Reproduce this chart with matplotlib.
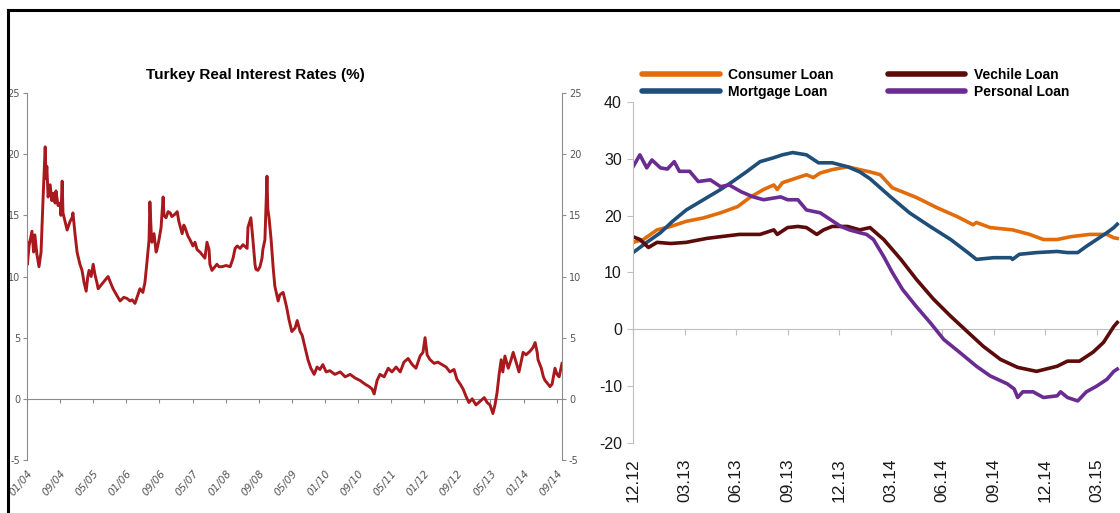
import matplotlib
matplotlib.use("Agg")
import matplotlib.pyplot as plt
from matplotlib.lines import Line2D
from matplotlib import font_manager

plt.rcParams['axes.unicode_minus'] = False

# ---- left panel: Turkey real interest rate (%), x = months since Jan 2004
rate_months = [0, 0.1, 0.5, 1.2, 1.6, 1.9, 2.4, 2.9, 3.4, 3.9, 4.4, 4.6, 4.8, 5.1, 5.6, 6.0, 6.3, 6.8,
               7.0, 7.5, 8.0, 8.2, 8.5, 8.7, 9.2, 9.7, 10.4, 10.9, 11.1, 11.6, 12.1, 12.3, 12.8, 13.3,
               13.8, 14.3, 14.7, 15.0, 15.5, 16.0, 16.4, 16.9, 17.2, 17.9, 18.4, 19.1, 19.6, 20.3, 20.8,
               21.8, 22.5, 23.4, 24.2, 24.9, 25.4, 26.1, 26.8, 27.3, 28.0, 28.5, 29.0, 29.5, 29.7, 30.1,
               30.2, 30.7, 31.2, 31.4, 31.9, 32.4, 32.9, 33.1, 33.6, 34.1, 34.6, 35.0, 35.8, 36.3, 36.7,
               37.5, 37.9, 38.2, 38.9, 39.4, 40.1, 40.6, 41.1, 41.8, 42.5, 43.0, 43.5, 44.0, 44.2, 44.7,
               45.4, 45.9, 46.4, 47.1, 48.1, 49.1, 49.8, 50.3, 50.8, 51.5, 52.2, 53.2, 53.4, 54.1, 54.6,
               55.1, 55.3, 55.8, 56.3, 56.8, 57.0, 57.5, 58.0, 58.2, 58.5, 59.0, 59.5, 59.9, 60.7, 61.1,
               61.9, 62.4, 62.8, 63.3, 64.0, 64.8, 65.3, 66.0, 66.5, 67.2, 67.9, 68.6, 69.4, 70.1, 70.8,
               71.5, 72.3, 73.2, 74.4, 75.7, 76.9, 78.1, 79.3, 80.5, 81.7, 82.7, 83.4, 83.9, 84.6, 85.3,
               86.3, 87.3, 88.2, 89.2, 90.2, 91.1, 92.1, 93.1, 94.0, 95.0, 95.7, 96.2, 96.7, 97.4, 98.4,
               99.3, 100.3, 101.3, 102.2, 103.2, 103.9, 104.7, 105.4, 106.1, 106.8, 107.6, 108.5, 109.5,
               110.5, 111.2, 111.9, 112.6, 113.1, 113.6, 114.1, 114.6, 115.0, 115.5, 116.3, 117.0, 117.5,
               118.2, 118.9, 119.4, 119.9, 120.6, 121.6, 122.3, 122.8, 123.3, 123.5, 124.3, 124.8, 125.2,
               125.7, 126.4, 126.9, 127.6, 128.1, 128.6, 129.3]
rate_values = [12.8, 11.0, 12.5, 13.7, 12.0, 13.4, 11.8, 10.8, 12.0, 16.5, 20.6, 18.0, 19.0, 16.5, 17.5,
               16.2, 16.8, 16.0, 17.0, 15.8, 16.0, 15.0, 17.8, 15.2, 14.5, 13.8, 14.5, 14.8, 15.2, 13.5,
               12.0, 11.7, 11.0, 10.5, 9.5, 8.8, 10.0, 10.5, 10.0, 11.0, 10.2, 9.5, 9.0, 9.3, 9.5, 9.8,
               10.0, 9.4, 9.0, 8.4, 8.0, 8.3, 8.2, 8.0, 8.1, 7.8, 8.5, 9.0, 8.7, 9.5, 11.2, 13.0, 16.1,
               13.0, 12.8, 13.5, 12.0, 12.2, 13.0, 14.0, 16.5, 15.0, 14.8, 15.3, 15.2, 14.9, 15.1, 15.3,
               14.5, 13.5, 14.2, 14.0, 13.3, 13.0, 12.5, 12.8, 12.2, 12.0, 11.7, 11.5, 12.8, 12.2, 11.0,
               10.5, 10.8, 11.0, 10.8, 10.8, 10.9, 10.8, 11.5, 12.3, 12.5, 12.3, 12.6, 12.3, 14.0, 14.8,
               13.0, 11.0, 10.6, 10.5, 10.8, 11.5, 12.2, 13.0, 18.2, 15.5, 14.8, 13.0, 10.7, 9.2, 8.0,
               8.5, 8.7, 8.0, 7.4, 6.5, 5.5, 5.8, 6.4, 5.5, 5.2, 4.2, 3.2, 2.5, 2.0, 2.6, 2.4, 2.8, 2.2,
               2.3, 2.0, 2.2, 1.8, 2.0, 1.7, 1.5, 1.2, 1.0, 0.8, 0.4, 1.5, 2.0, 1.8, 2.5, 2.2, 2.6, 2.2,
               3.0, 3.3, 2.8, 2.5, 3.5, 3.8, 5.0, 3.6, 3.2, 2.9, 3.0, 2.8, 2.6, 2.2, 2.4, 1.6, 1.2, 0.8,
               0.2, -0.3, 0.0, -0.5, -0.2, 0.1, -0.3, -0.5, -1.2, -0.5, 0.5, 2.0, 3.2, 2.2, 3.5, 2.5, 3.2,
               3.8, 3.0, 2.2, 3.0, 3.8, 3.6, 3.9, 4.2, 4.6, 3.8, 3.2, 2.5, 1.8, 1.5, 1.3, 1.0, 1.2, 2.5,
               2.0, 1.8, 2.9]
rate_tick_labels = ['01/04', '09/04', '05/05', '01/06', '09/06', '05/07', '01/08', '09/08', '05/09',
                    '01/10', '09/10', '05/11', '01/12', '09/12', '05/13', '01/14', '09/14']

# ---- right panel: loan growth (%), x = months since Dec 2012
consumer_months = [0, 0.6, 1.4, 2.2, 3.1, 4.1, 5.1, 6.1, 6.8, 7.6, 8.2, 8.4, 8.7, 9.6, 10.1, 10.5, 10.9,
                   11.6, 12.5, 13.2, 13.8, 14.4, 15.1, 16.5, 17.7, 18.9, 19.8, 20.0, 20.8, 22.1, 23.1,
                   23.9, 24.7, 25.5, 26.6, 27.6, 28.0, 28.2]
consumer_values = [15.3, 15.8, 17.5, 18.1, 19.0, 19.6, 20.5, 21.6, 23.2, 24.6, 25.4, 24.6, 25.8, 26.7,
                   27.2, 26.7, 27.5, 28.1, 28.6, 28.1, 27.7, 27.2, 24.9, 23.2, 21.4, 19.8, 18.4, 18.8,
                   17.9, 17.5, 16.7, 15.8, 15.8, 16.3, 16.7, 16.7, 16.1, 16.0]
mortgage_months = [0, 0.8, 1.6, 2.3, 3.1, 4.1, 5.1, 5.8, 6.6, 7.4, 8.2, 8.7, 9.3, 10.1, 10.8, 11.6, 12.5,
                   13.2, 13.8, 15.0, 16.1, 17.3, 18.5, 19.5, 20.0, 21.0, 22.0, 22.1, 22.5, 23.5, 24.7,
                   25.3, 25.9, 26.4, 27.0, 27.6, 28.0, 28.2]
mortgage_values = [13.5, 15.3, 17.0, 19.0, 21.0, 22.8, 24.6, 26.0, 27.7, 29.5, 30.2, 30.7, 31.1, 30.7,
                   29.3, 29.3, 28.6, 27.7, 26.5, 23.3, 20.5, 18.1, 15.8, 13.5, 12.3, 12.6, 12.6, 12.3,
                   13.2, 13.5, 13.7, 13.5, 13.5, 14.6, 15.8, 17.0, 17.9, 18.5]
vehicle_months = [0, 0.4, 0.9, 1.4, 2.2, 3.1, 4.3, 5.1, 6.2, 7.4, 8.2, 8.4, 9.0, 9.6, 10.1, 10.7, 11.1,
                  11.6, 12.5, 13.2, 13.8, 14.6, 15.6, 16.5, 17.5, 18.5, 19.5, 20.4, 21.4, 22.4, 23.5,
                  24.7, 25.3, 26.0, 26.8, 27.4, 28.0, 28.2]
vehicle_values = [16.3, 15.8, 14.4, 15.3, 15.1, 15.3, 16.0, 16.3, 16.7, 16.7, 17.5, 16.7, 17.9, 18.1,
                  17.9, 16.7, 17.5, 18.1, 18.1, 17.5, 17.9, 15.8, 12.3, 8.8, 5.3, 2.3, -0.5, -3.0, -5.3,
                  -6.7, -7.4, -6.5, -5.6, -5.6, -4.0, -2.3, 0.5, 1.2]
personal_months = [0, 0.4, 0.8, 1.1, 1.6, 2.0, 2.4, 2.7, 3.3, 3.8, 4.5, 5.1, 5.6, 6.3, 7.0, 7.6, 8.6,
                   9.0, 9.6, 10.1, 10.9, 11.5, 12.1, 12.6, 13.2, 13.6, 14.0, 14.6, 15.1, 15.7, 16.5,
                   17.3, 18.1, 19.0, 20.0, 20.8, 21.8, 22.2, 22.4, 22.7, 23.3, 23.9, 24.7, 24.9, 25.3,
                   25.9, 26.4, 27.0, 27.6, 28.0, 28.2]
personal_values = [28.6, 30.7, 28.4, 29.8, 28.4, 28.2, 29.5, 27.8, 27.8, 26.0, 26.3, 25.1, 25.4, 24.2,
                   23.3, 22.8, 23.3, 22.8, 22.8, 21.0, 20.5, 19.3, 18.1, 17.5, 17.0, 16.7, 15.8, 12.8,
                   10.0, 7.0, 4.0, 1.2, -1.8, -4.0, -6.5, -8.2, -9.6, -10.5, -12.0, -11.0, -11.0, -12.0,
                   -11.7, -11.0, -12.0, -12.6, -11.0, -10.0, -8.8, -7.4, -7.0]
loan_tick_labels = ['12.12', '03.13', '06.13', '09.13', '12.13', '03.14', '06.14', '09.14', '12.14', '03.15']

# a narrow face would suit the title/legend best, fall back to Arial metrics
installed = {f.name for f in font_manager.fontManager.ttflist}
has_narrow = 'Liberation Sans Narrow' in installed
narrow = ['Liberation Sans Narrow', 'DejaVu Sans'] if has_narrow else ['Liberation Sans', 'DejaVu Sans']
arial = ['Liberation Sans', 'DejaVu Sans']
title_size = 12.5 if has_narrow else 11
legend_size = 11.5 if has_narrow else 10

fig = plt.figure(figsize=(11.2, 5.13), dpi=100)

# ---------------- left chart
ax1 = fig.add_axes([0.0241, 0.1033, 0.4777, 0.7154])
ax1.plot(rate_months, rate_values, color='#A8181C', lw=2.1)
ax1.set_xlim(0, 129.3)
ax1.set_ylim(-5, 25)
ax1.set_yticks(range(-5, 26, 5))
for s in ['top', 'bottom']:
    ax1.spines[s].set_visible(False)
for s in ['left', 'right']:
    ax1.spines[s].set_color('#8C8C8C')
ax1.tick_params(axis='y', which='both', left=True, right=True, labelleft=True, labelright=True,
                direction='out', length=3, color='#8C8C8C', labelsize=7, labelcolor='#555555', pad=2)
xt = [8 * i for i in range(len(rate_tick_labels))]
ax1.set_xticks(xt)
ax1.set_xticklabels(rate_tick_labels, rotation=50, ha='right', va='top', rotation_mode='anchor',
                    fontsize=7.5, color='#555555', style='italic')
ax1.tick_params(axis='x', length=0, pad=6)
zero1 = ax1.secondary_xaxis(5 / 30)
zero1.set_xticks(xt)
zero1.set_xticklabels([])
zero1.tick_params(length=3, color='#8C8C8C')
zero1.spines['bottom'].set_color('#8C8C8C')
ax1.text(0.427, 1.03, 'Turkey Real Interest Rates (%)', transform=ax1.transAxes, ha='center',
         va='bottom', fontsize=title_size, fontweight='bold', family=narrow)

# ---------------- right chart
ax2 = fig.add_axes([0.5652, 0.1365, 0.4348, 0.6647])
ax2.plot(consumer_months, consumer_values, color='#E36C0A', lw=2.6, label='Consumer Loan')
ax2.plot(mortgage_months, mortgage_values, color='#1F4E79', lw=2.6, label='Mortgage Loan')
ax2.plot(vehicle_months, vehicle_values, color='#5C0A0A', lw=2.6, label='Vechile Loan')
ax2.plot(personal_months, personal_values, color='#6B2C91', lw=2.6, label='Personal Loan')
ax2.set_xlim(0, 28.36)
ax2.set_ylim(-20, 40)
ax2.set_yticks(range(-20, 41, 10))
for s in ['top', 'right', 'bottom']:
    ax2.spines[s].set_visible(False)
ax2.spines['left'].set_color('#BFBFBF')
ax2.tick_params(axis='y', direction='out', length=4, color='#BFBFBF', labelsize=11.5,
                labelcolor='#1A1A1A', pad=4)
for lab in ax2.get_yticklabels():
    lab.set_family(arial)
xt2 = [3 * i for i in range(len(loan_tick_labels))]
ax2.set_xticks(xt2)
ax2.set_xticklabels(loan_tick_labels, rotation=90, fontsize=12.5, color='#1A1A1A', family=arial)
ax2.tick_params(axis='x', length=0, pad=11)
zero2 = ax2.secondary_xaxis(20 / 60)
zero2.set_xticks(xt2)
zero2.set_xticklabels([])
zero2.tick_params(length=4, color='#BFBFBF')
zero2.spines['bottom'].set_color('#BFBFBF')

leg = ax2.legend(loc='lower left', bbox_to_anchor=(0.018, 1.01), ncol=2, frameon=False,
                 handlelength=5.6, handletextpad=0.6, columnspacing=3.9, labelspacing=0.2,
                 borderpad=0, borderaxespad=0,
                 prop={'family': narrow, 'size': legend_size, 'weight': 'bold'})
for h in leg.get_lines():
    h.set_linewidth(4)
    h.set_solid_capstyle('round')

# black frame lines of the composite picture
fig.add_artist(Line2D([8 / 1120, 1.0], [1 - 10 / 513, 1 - 10 / 513], color='black', lw=2.2))
fig.add_artist(Line2D([8 / 1120, 8 / 1120], [0.0, 1 - 10 / 513], color='black', lw=2.2))

fig.savefig('out.png', dpi=100)
